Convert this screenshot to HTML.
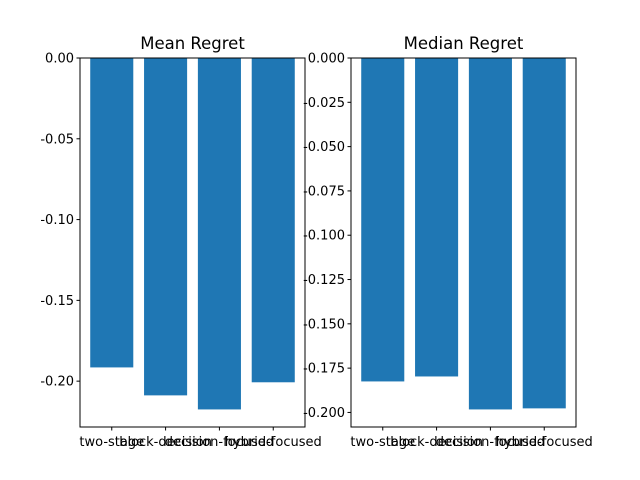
<!DOCTYPE html>
<html><head><meta charset="utf-8"><style>
body{margin:0;background:#fff}
svg{display:block;font-family:"DejaVu Sans","Liberation Sans",sans-serif}
</style></head><body>
<svg id="c" width="640" height="480"></svg>
<script>
const categories=["two-stage","block-decision","decision-focused","hybrid-focused"];
const meanValues=[-0.1915,-0.2088,-0.2175,-0.2007];
const medianValues=[-0.1825,-0.1797,-0.1983,-0.1977];
const meanTicks=[0,-0.05,-0.10,-0.15,-0.20];
const meanTickLabels=["0.00","-0.05","-0.10","-0.15","-0.20"];
const medianTicks=[0,-0.025,-0.05,-0.075,-0.1,-0.125,-0.15,-0.175,-0.2];
const medianTickLabels=["0.000","-0.025","-0.050","-0.075","-0.100","-0.125","-0.150","-0.175","-0.200"];
const NS="http://www.w3.org/2000/svg";
const svg=document.getElementById('c');
function mk(t,a,p){const e=document.createElementNS(NS,t);for(const k in a)e.setAttribute(k,a[k]);(p||svg).appendChild(e);return e;}
function panel(name,x0,x1,y0,y1,vals,ticks,labels,title){
  const g=mk('g',{});
  
  
  const mn=Math.min(...vals)*1.05;
  const ymin=Math.min(mn,0),ymax=0;
  const Y=v=>y0+(ymax-v)/(ymax-ymin)*(y1-y0);
  const n=vals.length,lo=-0.4-0.05*(n-0.2),hi=n-1+0.4+0.05*(n-0.2);
  const X=v=>x0+(v-lo)/(hi-lo)*(x1-x0);
  vals.forEach((v,i)=>{
    const r=mk('rect',{x:X(i-0.4),y:Y(0),width:X(i+0.4)-X(i-0.4),height:Y(v)-Y(0),fill:'#1f77b4'},g);
    
    
    mk('line',{x1:X(i),x2:X(i),y1:y1,y2:y1+3.5,stroke:'#000'},g);
    const t=mk('text',{x:X(i),y:y1+19,'text-anchor':'middle','font-size':13},g);
    t.textContent=categories[i];
    
    
  });
  ticks.forEach((v,i)=>{
    const y=Y(v);
    mk('line',{x1:x0-3.5,x2:x0,y1:y,y2:y,stroke:'#000'},g);
    const t=mk('text',{x:x0-6,y:y+4.5,'text-anchor':'end','font-size':13},g);
    t.textContent=labels[i];
    
    
  });
  mk('rect',{x:x0,y:y0,width:x1-x0,height:y1-y0,fill:'none',stroke:'#000','stroke-width':1},g);
  const tt=mk('text',{x:(x0+x1)/2,y:y0-9,'text-anchor':'middle','font-size':16.5},g);
  tt.textContent=title;
  
  
}
panel('mean-regret-panel',80,305,58,427,meanValues,meanTicks,meanTickLabels,'Mean Regret');
panel('median-regret-panel',351,576,58,427,medianValues,medianTicks,medianTickLabels,'Median Regret');
</script>
</body></html>
